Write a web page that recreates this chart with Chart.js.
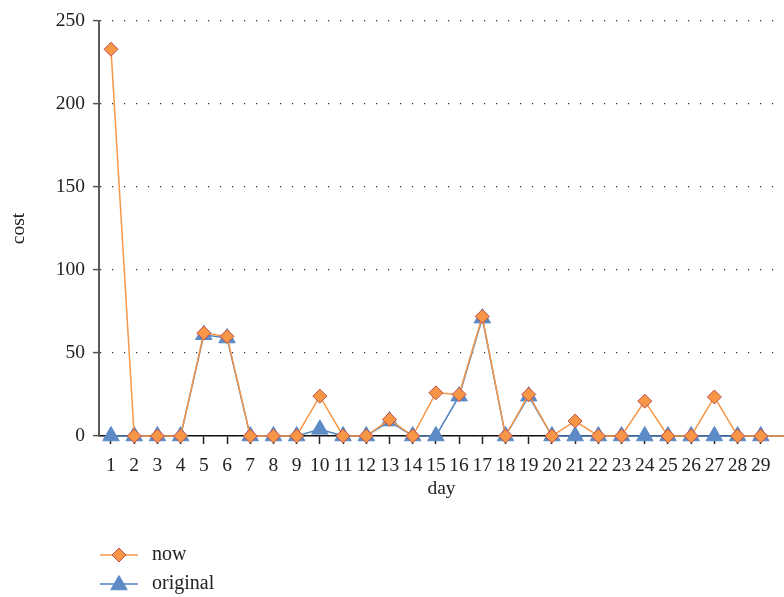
<!DOCTYPE html>
<html>
<head>
<meta charset="utf-8">
<script src="https://cdn.jsdelivr.net/npm/chart.js@4.4.1/dist/chart.umd.min.js"></script>
<style>
  html, body { margin: 0; padding: 0; background: #fff; }
  #wrap { width: 784px; height: 597px; position: relative; }
</style>
</head>
<body>
<div id="wrap"><canvas id="c" width="784" height="597"></canvas></div>
<script>
const days = [1,2,3,4,5,6,7,8,9,10,11,12,13,14,15,16,17,18,19,20,21,22,23,24,25,26,27,28,29,30,31];
const dayLabels = ['1','2','3','4','5','6','7','8','9','10','11','12','13','14','15','16','17','18','19','20','21','22','23','24','25','26','27','28','29'];
const nowCost = [233,0,0,0,62,60,0,0,0,24,0,0,10,0,26,25,72,0,25,0,9,0,0,21,0,0,23.5,0,0,0,0];
const originalCost = [0,0,0,0,61,59,0,0,0,4,0,0,9,0,0,24,71,0,24,0,0,0,0,0,0,0,0,0,0,0,0];
const yTicks = [0,50,100,150,200,250];
const seriesNames = ['now','original'];

const FONT = "'Liberation Serif', 'DejaVu Serif', serif";
const ORANGE = '#F79646';
const RED = '#C0504D';
const BLUE = '#4F81BD';
const BLUE_FILL = '#5B8AC6';

const legendPlugin = {
  id: 'customLegend',
  afterDraw(chart) {
    const ctx = chart.ctx;
    const rows = [
      {name: seriesNames[0], y: 555, line: ORANGE, style: 'rectRot', fill: ORANGE, border: RED, r: 7},
      {name: seriesNames[1], y: 584, line: BLUE, style: 'triangle', fill: BLUE_FILL, border: BLUE_FILL, r: 9.5}
    ];
    ctx.save();
    rows.forEach(row => {
      ctx.strokeStyle = row.line;
      ctx.lineWidth = 1.5;
      ctx.beginPath();
      ctx.moveTo(100, row.y);
      ctx.lineTo(138, row.y);
      ctx.stroke();
      ctx.fillStyle = row.fill;
      ctx.strokeStyle = row.border;
      ctx.lineWidth = 1;
      Chart.helpers.drawPoint(ctx, {pointStyle: row.style, radius: row.r, rotation: 0, borderWidth: 1}, 119, row.y + (row.style === 'triangle' ? 1 : 0));
      ctx.fillStyle = '#222';
      ctx.font = "20px " + FONT;
      ctx.textBaseline = 'middle';
      ctx.textAlign = 'left';
      ctx.fillText(row.name, 152, row.y);
    });
    ctx.restore();
  }
};

const visibleRadius = r => ctx => (ctx.raw && ctx.raw.x > 29 ? 0 : r);

new Chart(document.getElementById('c'), {
  type: 'line',
  data: {
    labels: days,
    datasets: [
      {
        label: seriesNames[0],
        data: days.map((d, i) => ({x: d, y: nowCost[i]})),
        borderColor: ORANGE,
        borderWidth: 1.5,
        pointStyle: 'rectRot',
        pointRadius: visibleRadius(7),
        pointBackgroundColor: ORANGE,
        pointBorderColor: RED,
        pointBorderWidth: 1,
        tension: 0
      },
      {
        label: seriesNames[1],
        data: days.map((d, i) => ({x: d, y: originalCost[i]})),
        borderColor: BLUE,
        borderWidth: 1.5,
        pointStyle: 'triangle',
        pointRadius: visibleRadius(9.5),
        pointBackgroundColor: BLUE_FILL,
        pointBorderColor: BLUE_FILL,
        pointBorderWidth: 1,
        tension: 0
      }
    ]
  },
  options: {
    responsive: false,
    animation: false,
    clip: {left: false, top: false, right: 0, bottom: false},
    layout: { autoPadding: false, padding: {top: 21, right: 0, bottom: 90, left: 0} },
    plugins: { legend: { display: false }, tooltip: { enabled: false } },
    scales: {
      x: {
        type: 'linear',
        min: 0.483,
        max: 30,
        afterBuildTicks: s => { s.ticks = dayLabels.map(l => ({value: Number(l)})); },
        afterFit: s => { s.height = 71; s.paddingRight = 0; s.paddingLeft = 0; },
        ticks: {
          autoSkip: false,
          maxRotation: 0,
          padding: 10,
          color: '#222',
          font: {family: FONT, size: 19.5},
          callback: v => dayLabels[v - 1]
        },
        grid: { drawOnChartArea: false, drawTicks: true, tickLength: 8, tickColor: '#222', tickWidth: 1.5 },
        border: { display: true, color: '#111', width: 1.5 },
        title: { display: true, text: 'day', color: '#222', font: {family: FONT, size: 19.5}, padding: {top: 0, bottom: 6} }
      },
      y: {
        min: 0,
        max: 250,
        afterBuildTicks: s => { s.ticks = yTicks.map(v => ({value: v})); },
        afterFit: s => { s.width = 99; s.paddingTop = 0; },
        ticks: { padding: 8, color: '#222', font: {family: FONT, size: 19.5} },
        grid: {
          color: '#333', lineWidth: 1.2,
          drawTicks: true, tickLength: 6, tickColor: '#555', tickWidth: 1.5, tickBorderDash: []
        },
        border: { display: true, color: '#5a5a5a', width: 2, dash: [1.2, 10.8] },
        title: { display: true, text: 'cost', color: '#222', font: {family: FONT, size: 19.5}, padding: {top: 7, bottom: 0} }
      }
    }
  },
  plugins: [legendPlugin]
});
</script>
</body>
</html>
